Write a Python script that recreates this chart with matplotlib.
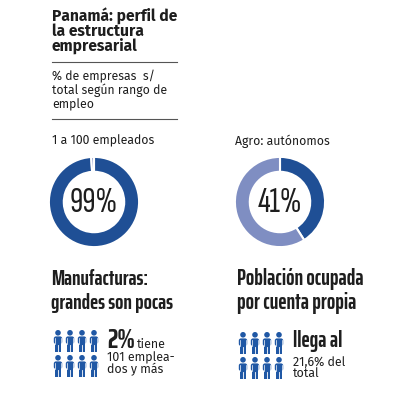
import matplotlib
matplotlib.use("Agg")
import matplotlib.pyplot as plt
from matplotlib import font_manager
from matplotlib.patches import Circle, FancyBboxPatch, Rectangle

W, H = 412, 400

# data
title_lines = ["Panamá: perfil de", "la estructura", "empresarial"]
subtitle_lines = ["% de empresas  s/", "total según rango de", "empleo"]
donut_labels = ["1 a 100 empleados", "Agro: autónomos"]
donut_values = [[99, 1], [41, 59]]
donut_texts = ["99%", "41%"]
heads = [["Manufacturas:", "grandes son pocas"], ["Población ocupada", "por cuenta propia"]]
big_notes = ["2%", "llega al"]
small_notes = [["tiene", "101 emplea-", "dos y más"], ["", "21,6% del", "total"]]

DARK = "#1f4f95"
LIGHT = "#7f8ec2"
ICON = "#2058a5"
INK = "#1e1e1e"

names = {f.name for f in font_manager.fontManager.ttflist}


def first_font(cands):
    for c in cands:
        if c in names:
            return c
    return "DejaVu Sans"


NUMF = first_font(["Sofia Sans Extra Condensed", "Saira ExtraCondensed",
                   "Fira Sans Extra Condensed", "Barlow Condensed",
                   "Roboto Condensed", "Liberation Sans Narrow"])
HEADF = first_font(["Saira ExtraCondensed", "Fira Sans Extra Condensed",
                    "Barlow Condensed", "Roboto Condensed", "Liberation Sans Narrow"])
SANS = first_font(["Fira Sans", "Roboto"])

fig = plt.figure(figsize=(W / 100, H / 100), dpi=100)
renderer = fig.canvas.get_renderer()
bg = fig.add_axes([0, 0, 1, 1])
bg.set_xlim(0, W)
bg.set_ylim(H, 0)
bg.axis("off")


def size_for(s, width, **kw):
    # font size that makes `s` span about `width` pixels
    t = bg.text(0, 0, s, fontsize=10, **kw)
    w = t.get_window_extent(renderer).width
    t.remove()
    return 10 * width / w


# header
ts = size_for(title_lines[0], 125, fontweight="bold", family=SANS)
for i, s in enumerate(title_lines):
    bg.text(52, 16 + i * 15, s, fontsize=ts, fontweight="bold", family=SANS,
            color=INK, va="center", ha="left")
bg.plot([52, 177], [62, 62], color="#555555", lw=0.8)
ss = size_for(subtitle_lines[1], 114, family=SANS)
for i, s in enumerate(subtitle_lines):
    bg.text(52, 76 + i * 14.5, s, fontsize=ss, family=SANS, color=INK,
            va="center", ha="left")
bg.plot([52, 177], [119, 119], color="#555555", lw=0.8)

# donuts
centers = [(94, 202), (280, 202)]
label_x = [52, 235]
ls = size_for(donut_labels[0], 102, family=SANS)
ns = size_for(donut_texts[0], 48, family=NUMF)
R = 46
for k in range(2):
    bg.text(label_x[k], 141, donut_labels[k], fontsize=ls, family=SANS,
            color=INK, va="center", ha="left")
    cx, cy = centers[k]
    ax = fig.add_axes([(cx - R) / W, (H - cy - R) / H, 2 * R / W, 2 * R / H])
    ax.pie(donut_values[k], colors=[DARK, LIGHT], startangle=90, counterclock=False,
           radius=1, wedgeprops=dict(width=0.33, edgecolor="white", linewidth=1.5))
    ax.set_xlim(-1.02, 1.02)
    ax.set_ylim(-1.02, 1.02)
    ax.set_aspect("equal")
    ax.text(0, -0.02, donut_texts[k], fontsize=ns, color=INK, ha="center",
            va="center", family=NUMF)

# bottom headings, one size per block (fitted on the first line)
head_x = [51, 237]
head_w = [97, 125]
for k in range(2):
    hs = size_for(heads[k][0], head_w[k], fontweight="bold", family=HEADF)
    for i, s in enumerate(heads[k]):
        bg.text(head_x[k], 279 + i * 24, s, fontsize=hs, fontweight="bold",
                color=INK, va="center", ha="left", family=HEADF)


def person(x, y):
    # y = top of the head
    bg.add_patch(Circle((x, y + 2.8), 2.8, color=ICON, lw=0))
    bg.add_patch(FancyBboxPatch((x - 4.2, y + 6.4), 8.4, 7.6,
                                boxstyle="round,pad=0,rounding_size=2.2",
                                color=ICON, lw=0))
    bg.add_patch(Rectangle((x - 2.8, y + 13), 5.6, 9, color=ICON, lw=0))
    bg.plot([x, x], [y + 15, y + 22], color="white", lw=0.6)
    bg.plot([x - 2.9, x - 2.9], [y + 8, y + 14], color="white", lw=0.5)
    bg.plot([x + 2.9, x + 2.9], [y + 8, y + 14], color="white", lw=0.5)


icon_x0 = [58, 243]
icon_y0 = [330, 332]
for k in range(2):
    for r in range(2):
        for c in range(4):
            person(icon_x0[k] + c * 12, icon_y0[k] + r * 25)

note_x = [107, 293]
note_w = [28, 49]
nss = size_for(small_notes[0][1], 68, family=SANS)
for k in range(2):
    bs = size_for(big_notes[k], note_w[k], fontweight="bold", family=HEADF)
    bg.text(note_x[k], 341, big_notes[k], fontsize=bs, fontweight="bold",
            color=INK, va="center", ha="left", family=HEADF)
    if small_notes[k][0]:
        bg.text(137, 344, small_notes[k][0], fontsize=nss, family=SANS,
                color=INK, va="center", ha="left")
    bg.text(note_x[k], 358 + k * 4, small_notes[k][1], fontsize=nss,
            family=SANS, color=INK, va="center", ha="left")
    bg.text(note_x[k], 369.5 + k * 4, small_notes[k][2], fontsize=nss,
            family=SANS, color=INK, va="center", ha="left")

fig.savefig("out.png", dpi=100)
